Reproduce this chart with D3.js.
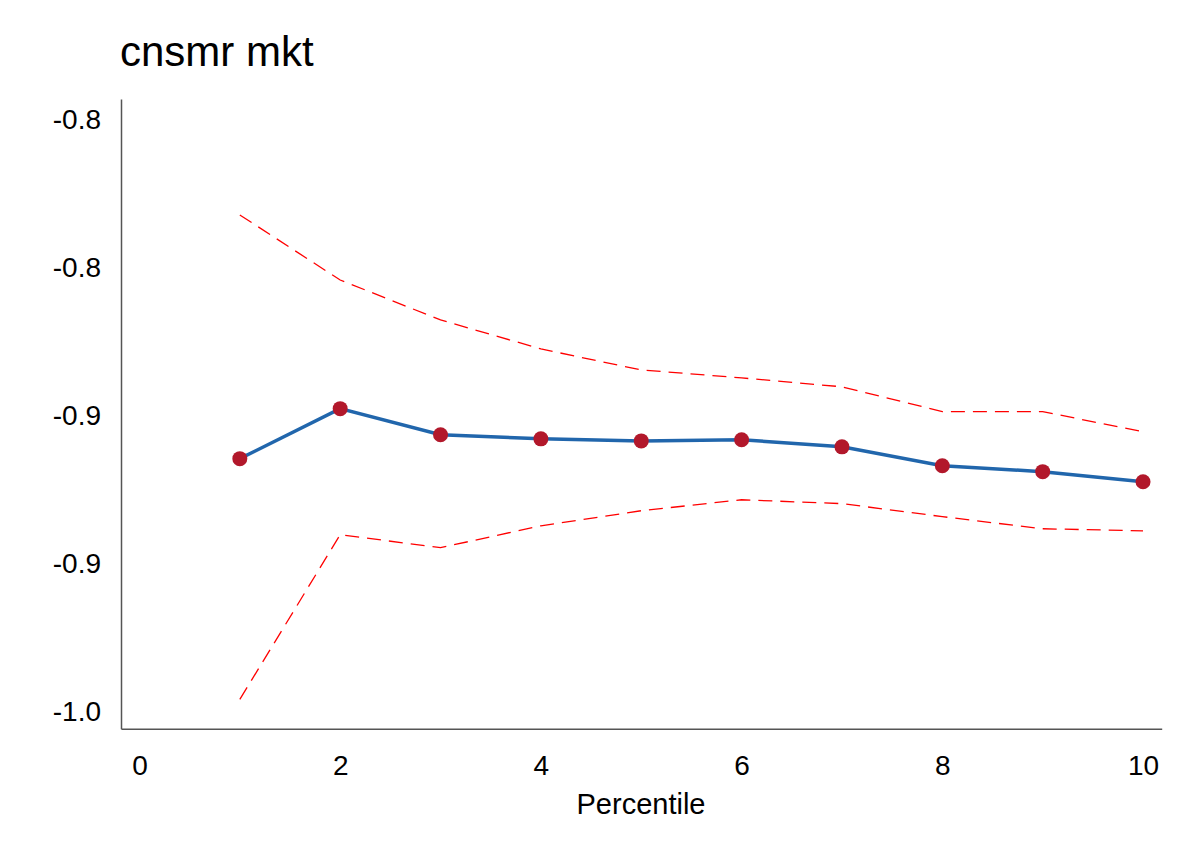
<!DOCTYPE html>
<html>
<head>
<meta charset="utf-8">
<script src="https://cdn.jsdelivr.net/npm/d3@7"></script>
<style>
  body { margin: 0; background: #fff; }
  text { font-family: "Liberation Sans", Arial, sans-serif; }
</style>
</head>
<body>
<svg id="mainSVG" width="1193" height="868"></svg>
<script>
// dados
var percentis = [1, 2, 3, 4, 5, 6, 7, 8, 9, 10];
var estimativa = [-0.9145, -0.8976, -0.9064, -0.9078, -0.9085, -0.9081, -0.9105, -0.9169, -0.9189, -0.9223];
var limiteSup = [-0.8321, -0.8541, -0.8676, -0.8774, -0.8845, -0.8872, -0.8902, -0.8986, -0.8986, -0.9054];
var limiteInf = [-0.9959, -0.9402, -0.9446, -0.9372, -0.9321, -0.9284, -0.9297, -0.9341, -0.9382, -0.9389];
var xTicks = [0, 2, 4, 6, 8, 10];
var yTicks = [-0.80, -0.85, -0.90, -0.95, -1.00];
var yTickLabels = ["-0.8", "-0.8", "-0.9", "-0.9", "-1.0"];

var mainSVG = d3.select("#mainSVG");

// escalas
var xScale = d3.scaleLinear().domain([-0.184, 10.186]).range([121, 1161.7]);
var yScale = d3.scaleLinear().domain([-1.0058, -0.7929]).range([728.7, 99]);

// eixos
var xAxisGroup = mainSVG.append("g")
    .attr("class", "axis")
    .attr("transform", "translate(0,728.7)");
xAxisGroup.call(d3.axisBottom(xScale).tickValues(xTicks).tickSize(0).tickSizeOuter(0).tickPadding(26)
    .tickFormat(d3.format("d")));

var yAxisGroup = mainSVG.append("g")
    .attr("class", "axis")
    .attr("transform", "translate(121,0)");
yAxisGroup.call(d3.axisLeft(yScale).tickValues(yTicks).tickSize(0).tickSizeOuter(0).tickPadding(20)
    .tickFormat(function (d, i) { return yTickLabels[i]; }));

mainSVG.selectAll(".axis path").attr("stroke", "#555").attr("stroke-width", 1.5);
mainSVG.selectAll(".axis text")
    .attr("font-family", "Liberation Sans, Arial, sans-serif")
    .style("font-size", "28px")
    .style("fill", "black");

// linhas
var linha = d3.line()
    .x(function (d, i) { return xScale(percentis[i]); })
    .y(function (d) { return yScale(d); });

mainSVG.append("path")
    .datum(limiteSup)
    .attr("d", linha)
    .attr("fill", "none")
    .attr("stroke", "#ff0000")
    .attr("stroke-width", 1.3)
    .attr("stroke-dasharray", "14,8");

mainSVG.append("path")
    .datum(limiteInf)
    .attr("d", linha)
    .attr("fill", "none")
    .attr("stroke", "#ff0000")
    .attr("stroke-width", 1.3)
    .attr("stroke-dasharray", "14,8");

mainSVG.append("path")
    .datum(estimativa)
    .attr("d", linha)
    .attr("fill", "none")
    .attr("stroke", "#2166ac")
    .attr("stroke-width", 3.5);

// pontos
mainSVG.selectAll(".ponto")
    .data(estimativa)
    .enter().append("circle")
    .attr("class", "ponto")
    .attr("cx", function (d, i) { return xScale(percentis[i]); })
    .attr("cy", function (d) { return yScale(d); })
    .attr("r", 7.5)
    .attr("fill", "#b2182b");

// titulo e rotulo
mainSVG.append("text")
    .attr("x", 120)
    .attr("y", 65.5)
    .text("cnsmr mkt")
    .style("font-size", "42px")
    .style("fill", "black");

mainSVG.append("text")
    .attr("x", 641)
    .attr("y", 814)
    .attr("text-anchor", "middle")
    .text("Percentile")
    .style("font-size", "29px")
    .style("fill", "black");
</script>
</body>
</html>
